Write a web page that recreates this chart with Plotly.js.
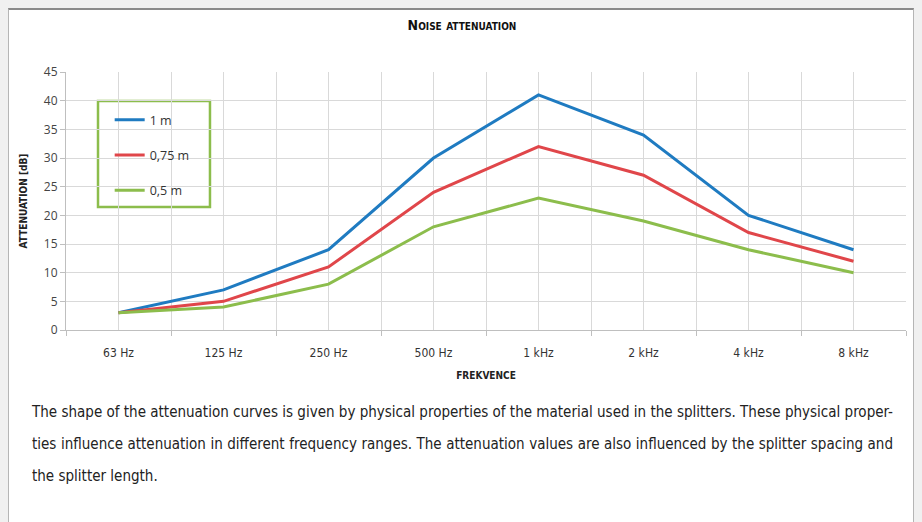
<!DOCTYPE html>
<html>
<head>
<meta charset="utf-8">
<script src="https://cdn.plot.ly/plotly-3.0.1.min.js"></script>
<style>
  html, body { margin:0; padding:0; background:#f0f0f0; width:922px; height:522px; overflow:hidden; }
  #card { position:absolute; left:8px; top:8px; width:906px; height:520px; background:#fff;
          border-top:2px solid #8a8a8a; border-left:1px solid #b5b5b5; border-right:1px solid #b5b5b5; box-sizing:border-box; overflow:hidden; }
  #chart { position:absolute; left:0; top:-2px; width:906px; height:380px; }
  #para { position:absolute; left:23px; top:386px; font-family:"DejaVu Sans Condensed","Liberation Sans Narrow",sans-serif;
          font-size:16px; color:#222; line-height:32px; transform-origin:0 0; }
  .j { text-align:justify; text-align-last:justify; white-space:nowrap; }
  .n { white-space:nowrap; }
  #probe { display:inline-block; white-space:nowrap; }
</style>
</head>
<body>
<div id="card">
  <div id="chart"></div>
  <div id="para">
    <div class="j" id="l1"><span id="probe">The shape of the attenuation curves is given by physical properties of the material used in the splitters. These physical proper-</span></div>
    <div class="j">ties influence attenuation in different frequency ranges. The attenuation values are also influenced by the splitter spacing and</div>
    <div class="n">the splitter length.</div>
  </div>
</div>
<script>
const categories = ["63 Hz","125 Hz","250 Hz","500 Hz","1 kHz","2 kHz","4 kHz","8 kHz"];
const seriesNames = ["1 m","0,75 m","0,5 m"];
const values1m   = [3, 7, 14, 30, 41, 34, 20, 14];
const values075m = [3, 5, 11, 24, 32, 27, 17, 12];
const values05m  = [3, 4,  8, 18, 23, 19, 14, 10];
const colors = ["#1f7bc1", "#e0464a", "#8cbd4c"];

// fit paragraph width (layout only)
(function(){
  const target = 861;
  const probe = document.getElementById("probe");
  const w = probe.getBoundingClientRect().width;
  const s = target / w;
  const para = document.getElementById("para");
  para.style.width = (target / s) + "px";
  para.style.transform = "scaleX(" + s + ")";
})();

const xIdx = categories.map((c, i) => i);
const allValues = [values1m, values075m, values05m];
const traces = allValues.map((v, k) => ({
  type: "scatter", mode: "lines", x: xIdx, y: v, name: seriesNames[k],
  legendgroup: "g" + k,
  line: { color: colors[k], width: 3 }
}));

const gridc = "#d9d9d9";
const condensed = "DejaVu Sans Condensed, Liberation Sans Narrow, sans-serif";
const layout = {
  width: 906, height: 380,
  margin: { l: 57, r: 9, t: 64, b: 58 },
  paper_bgcolor: "rgba(0,0,0,0)", plot_bgcolor: "#fff",
  title: { text: "Noise attenuation", x: 0.5, xanchor: "center", y: 0.955, yanchor: "middle",
           font: { family: condensed, size: 14, weight: 700, variant: "small-caps", color: "#111" } },
  showlegend: true,
  legend: { x: 0.052, xanchor: "left", y: 0.872, yanchor: "top", bgcolor: "rgba(0,0,0,0)", borderwidth: 0,
            tracegroupgap: 16, itemwidth: 30,
            font: { family: "Open Sans, sans-serif", size: 12.5, color: "#333" } },
  shapes: [{ type: "rect", xref: "paper", yref: "paper", x0: 0.0381, x1: 0.1714, y0: 0.477, y1: 0.8876,
             line: { color: "#8cbd4c", width: 2.5 }, fillcolor: "#fff", layer: "below" }],
  xaxis: {
    range: [-0.5, 7.5], tickmode: "array", tickvals: xIdx, ticktext: categories,
    ticks: "", ticklabelstandoff: 12, showgrid: true, gridcolor: gridc, gridwidth: 1, zeroline: false,
    showline: true, linecolor: "#bfbfbf", linewidth: 1,
    minor: { tickmode: "linear", tick0: -0.5, dtick: 1, ticks: "outside", ticklen: 5, tickcolor: "#bfbfbf", showgrid: true, gridcolor: gridc, gridwidth: 1 },
    tickfont: { family: condensed, size: 12, color: "#333" },
    title: { text: "FREKVENCE", standoff: 12, font: { family: condensed, size: 10, weight: 700, color: "#222" } },
    fixedrange: true
  },
  yaxis: {
    range: [0, 45], dtick: 5, tick0: 0, ticks: "outside", ticklen: 5, tickcolor: "#bfbfbf",
    showgrid: true, gridcolor: gridc, gridwidth: 1, zeroline: false,
    showline: true, linecolor: "#bfbfbf", linewidth: 1,
    tickfont: { family: "Open Sans, sans-serif", size: 12, color: "#444" },
    title: { text: "ATTENUATION [dB]", standoff: 14, font: { family: condensed, size: 10, weight: 700, color: "#222" } },
    fixedrange: true
  }
};
Plotly.newPlot("chart", traces, layout, { displayModeBar: false, staticPlot: true });
</script>
</body>
</html>
